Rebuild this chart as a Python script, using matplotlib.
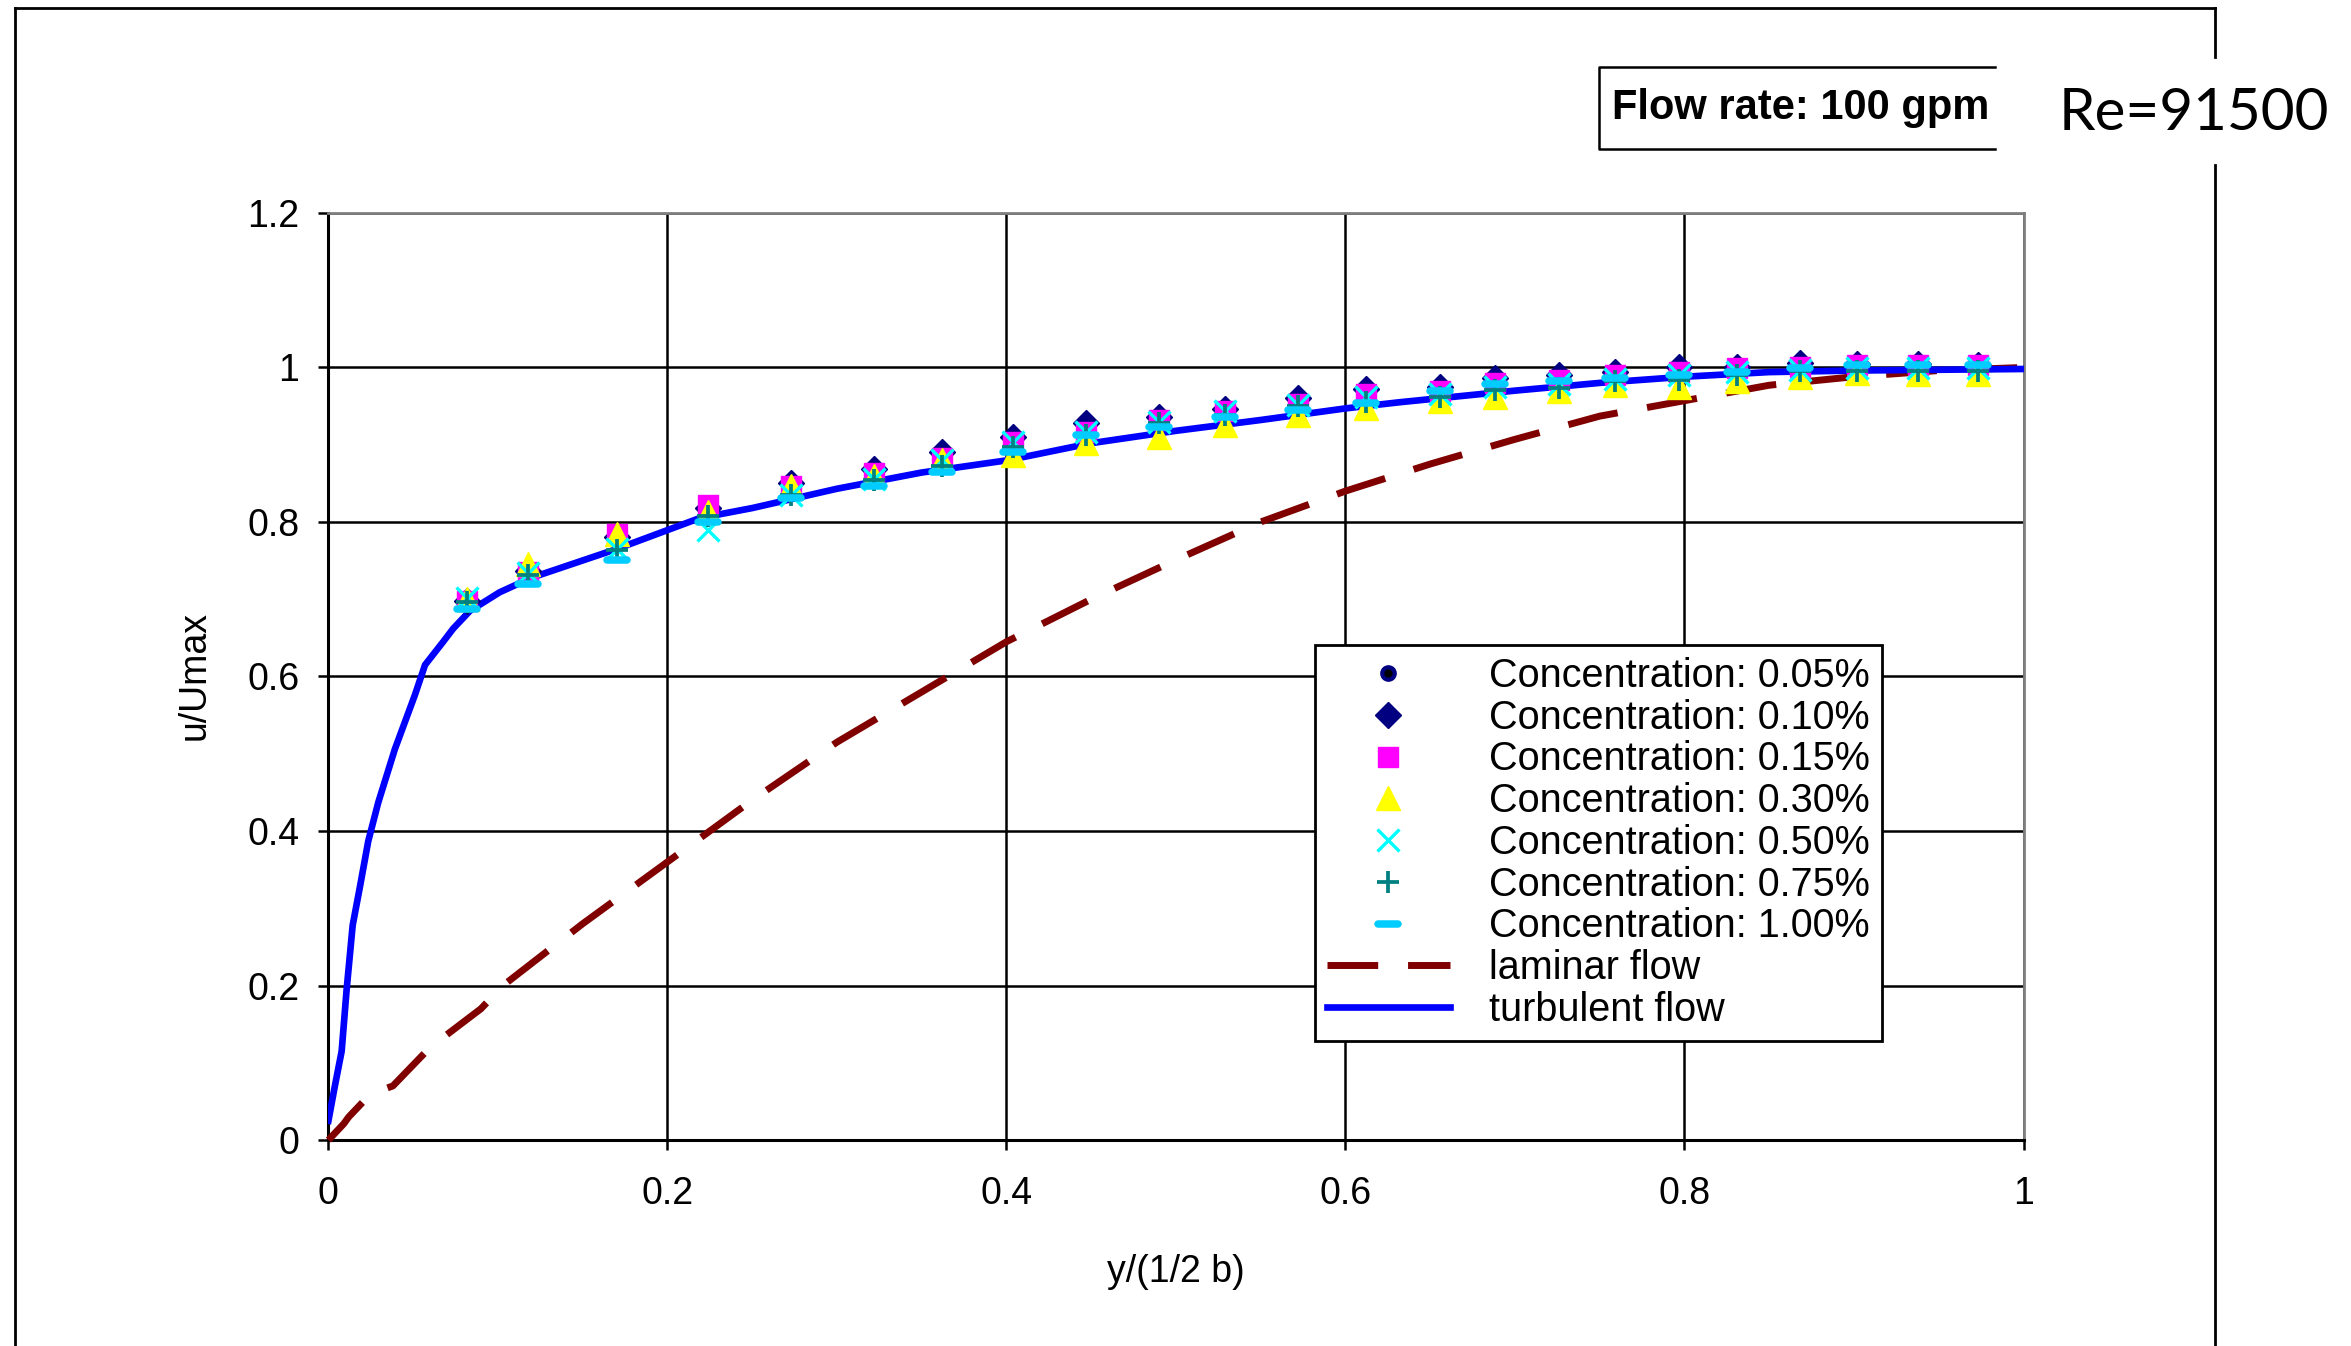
import numpy as np
import matplotlib
matplotlib.use('Agg')
import matplotlib.pyplot as plt
from matplotlib import font_manager
from matplotlib.lines import Line2D
from matplotlib.markers import MarkerStyle

plt.rcParams['font.family'] = ['Liberation Sans', 'DejaVu Sans']

# measured points, y/(1/2 b)
y_pos = [0.082, 0.118, 0.170, 0.224, 0.273, 0.322, 0.362, 0.404, 0.447, 0.490, 0.529, 0.572,
         0.612, 0.656, 0.688, 0.726, 0.759, 0.797, 0.831, 0.868, 0.902, 0.938, 0.973]

c005 = [0.696, 0.735, 0.779, 0.817, 0.848, 0.867, 0.889, 0.908, 0.925, 0.934, 0.944, 0.958,
        0.969, 0.973, 0.984, 0.988, 0.992, 0.998, 0.999, 1.004, 1.003, 1.003, 1.002]
c010 = [0.698, 0.737, 0.780, 0.818, 0.850, 0.869, 0.891, 0.910, 0.928, 0.936, 0.946, 0.960,
        0.972, 0.975, 0.986, 0.990, 0.994, 1.000, 1.000, 1.006, 1.005, 1.004, 1.003]
c015 = [0.698, 0.735, 0.785, 0.822, 0.846, 0.863, 0.883, 0.904, 0.917, 0.932, 0.943, 0.953,
        0.966, 0.969, 0.980, 0.984, 0.990, 0.994, 0.999, 1.000, 1.003, 1.003, 1.003]
c030 = [0.700, 0.745, 0.784, 0.813, 0.846, 0.860, 0.880, 0.887, 0.902, 0.910, 0.925, 0.938,
        0.947, 0.956, 0.962, 0.969, 0.977, 0.975, 0.982, 0.988, 0.993, 0.992, 0.992]
c050 = [0.701, 0.734, 0.765, 0.790, 0.835, 0.855, 0.880, 0.904, 0.917, 0.930, 0.943, 0.952,
        0.962, 0.966, 0.975, 0.978, 0.985, 0.990, 0.994, 0.997, 0.999, 0.999, 0.999]
c075 = [0.697, 0.731, 0.764, 0.808, 0.835, 0.854, 0.872, 0.897, 0.913, 0.928, 0.938, 0.950,
        0.955, 0.962, 0.971, 0.973, 0.982, 0.984, 0.990, 0.995, 0.995, 0.995, 0.995]
c100 = [0.687, 0.720, 0.751, 0.800, 0.831, 0.846, 0.865, 0.891, 0.913, 0.923, 0.936, 0.945,
        0.954, 0.969, 0.978, 0.982, 0.986, 0.990, 0.994, 0.999, 1.003, 1.003, 1.003]

# laminar profile
lam_x = [0, 0.009, 0.012, 0.025, 0.038, 0.06, 0.09, 0.103, 0.15, 0.2, 0.25, 0.3, 0.35, 0.4,
         0.45, 0.5, 0.55, 0.6, 0.65, 0.7, 0.75, 0.8, 0.85, 0.9, 0.95, 1.0]
lam_y = [0, 0.021, 0.03, 0.06, 0.07, 0.12, 0.17, 0.2, 0.28, 0.36, 0.44, 0.515, 0.58, 0.645,
         0.70, 0.751, 0.80, 0.84, 0.875, 0.907, 0.937, 0.957, 0.977, 0.988, 0.996, 1.0]

# turbulent profile
turb_x = [0, 0.0038, 0.0078, 0.0107, 0.0143, 0.0186, 0.0235, 0.0294, 0.0392, 0.051, 0.057,
          0.0677, 0.0736, 0.0835, 0.101, 0.12, 0.17, 0.219, 0.25, 0.3, 0.35, 0.401, 0.45,
          0.5, 0.55, 0.6, 0.632, 0.7, 0.75, 0.8, 0.85, 0.9, 0.95, 1.0]
turb_y = [0.025, 0.07, 0.115, 0.194, 0.278, 0.328, 0.387, 0.437, 0.506, 0.576, 0.615,
          0.645, 0.662, 0.685, 0.709, 0.728, 0.765, 0.805, 0.818, 0.843, 0.864, 0.880, 0.902,
          0.918, 0.932, 0.947, 0.955, 0.970, 0.980, 0.988, 0.994, 0.996, 0.997, 0.998]

labels = ['Concentration: 0.05%', 'Concentration: 0.10%', 'Concentration: 0.15%',
          'Concentration: 0.30%', 'Concentration: 0.50%', 'Concentration: 0.75%',
          'Concentration: 1.00%', 'laminar flow', 'turbulent flow']
xticks = [0, 0.2, 0.4, 0.6, 0.8, 1.0]
xtick_labels = ['0', '0.2', '0.4', '0.6', '0.8', '1']
yticks = [0, 0.2, 0.4, 0.6, 0.8, 1.0, 1.2]
ytick_labels = ['0', '0.2', '0.4', '0.6', '0.8', '1', '1.2']

fig = plt.figure(figsize=(23.51, 13.46), dpi=100)
ax = fig.add_axes([0.1397, 0.1530, 0.7210, 0.6888])

lam, = ax.plot(lam_x, lam_y, color='#800000', lw=5, dashes=(7.3, 4.3), zorder=3, clip_on=False)
turb, = ax.plot(turb_x, turb_y, color='#0000ff', lw=4.8, zorder=3)

h = []
h += ax.plot(y_pos, c005, ls='none', marker='o', ms=9, mfc='black', mec='#000080', mew=3, zorder=4)
h += ax.plot(y_pos, c010, ls='none', marker='D', ms=13, mfc='#000080', mec='#000080', mew=1, zorder=4)
h += ax.plot(y_pos, c015, ls='none', marker='s', ms=15, mfc='#ff00ff', mec='#ff00ff', mew=1, zorder=4)
h += ax.plot(y_pos, c030, ls='none', marker='^', ms=17, mfc='#ffff00', mec='#ffff00', mew=1, zorder=4)
h += ax.plot(y_pos, c050, ls='none', marker='x', ms=16, mec='#00ffff', mew=2.4, zorder=4)
h += ax.plot(y_pos, c075, ls='none', marker='+', ms=16, mec='#008080', mew=2.7, zorder=4)
h += ax.plot(y_pos, c100, ls='none', marker=MarkerStyle('_', capstyle='round'), ms=14,
             mec='#00ccff', mew=5.4, zorder=4)
h += [lam, turb]

ax.set_xlim(0, 1)
ax.set_ylim(0, 1.2)
ax.set_xticks(xticks)
ax.set_xticklabels(xtick_labels)
ax.set_yticks(yticks)
ax.set_yticklabels(ytick_labels)
ax.tick_params(axis='both', direction='out', length=7, width=1.8, labelsize=27, color='black')
ax.tick_params(axis='x', pad=19)
ax.tick_params(axis='y', pad=14)
ax.grid(True, color='black', lw=1.8)
ax.set_axisbelow(True)
for s in ['left', 'bottom']:
    ax.spines[s].set_color('black')
    ax.spines[s].set_linewidth(2.2)
for s in ['top', 'right']:
    ax.spines[s].set_color('#808080')
    ax.spines[s].set_linewidth(2)

fig.text(0.5002, 0.055, 'y/(1/2 b)', fontsize=27, ha='center', va='center')
fig.text(0.0829, 0.4985, 'u/Umax', fontsize=27, ha='center', va='center', rotation=90)

leg = ax.legend(h, labels, loc='upper left', bbox_to_anchor=(0.582, 0.534), borderaxespad=0,
                fontsize=28.5, fancybox=False, edgecolor='black', framealpha=1, handlelength=3.1,
                handletextpad=1.0, labelspacing=0.095, borderpad=0.3, numpoints=1)
leg.get_frame().set_linewidth(2)
leg.set_zorder(10)

# outer frame
tf = fig.transFigure
fig.add_artist(Line2D([0.0064, 0.0064], [0, 0.9941], color='black', lw=2, transform=tf))
fig.add_artist(Line2D([0.0064, 0.9422], [0.9941, 0.9941], color='black', lw=2, transform=tf))
fig.add_artist(Line2D([0.9422, 0.9422], [0.9941, 1 - 57 / 1346], color='black', lw=2, transform=tf))
fig.add_artist(Line2D([0.9422, 0.9422], [1 - 165 / 1346, 0], color='black', lw=2, transform=tf))

# flow rate box (open on the right)
fig.add_artist(Line2D([0.8486, 0.6801, 0.6801, 0.8486], [0.9502, 0.9502, 0.8893, 0.8893],
                      color='black', lw=1.8, transform=tf))
try:
    font_manager.findfont('Liberation Sans Narrow', fallback_to_default=False)
    fig.text(0.6857, 0.9198, 'Flow rate: 100 gpm', fontsize=34, fontweight='bold',
             family=['Liberation Sans Narrow', 'DejaVu Sans'], ha='left', va='center')
except ValueError:
    fig.text(0.6857, 0.9198, 'Flow rate: 100 gpm', fontsize=30, fontweight='bold',
             ha='left', va='center')

fig.text(0.8755, 0.916, 'Re=91500', fontsize=42, family=['Lato', 'DejaVu Sans'],
         ha='left', va='center')

fig.savefig('out.png', dpi=100)
